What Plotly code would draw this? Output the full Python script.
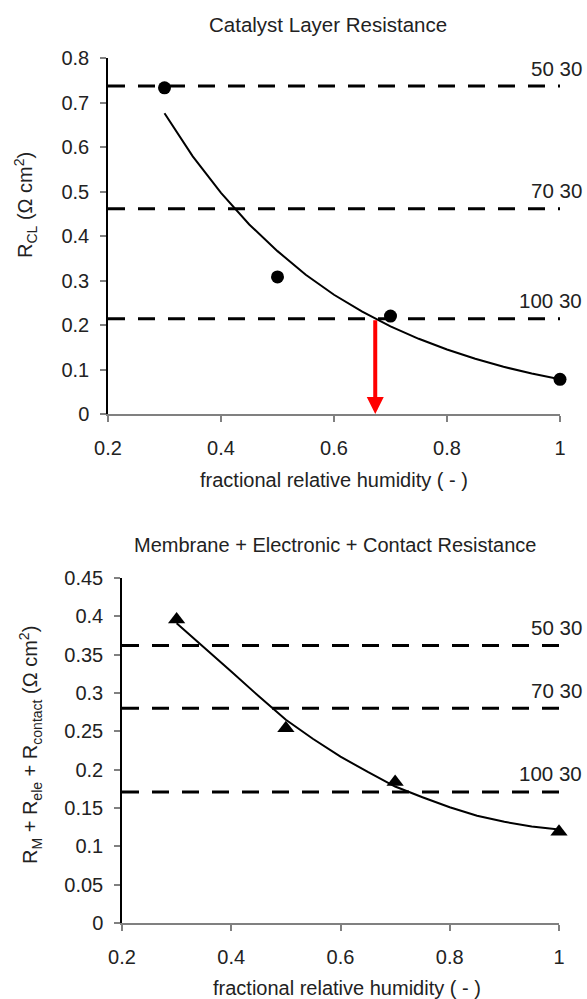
import plotly.graph_objects as go

# Fractional relative humidity of the measured points and of the fitted curves
rh_points = [0.3, 0.5, 0.7, 1.0]
rh_fit = [0.30, 0.35, 0.40, 0.45, 0.50, 0.55, 0.60, 0.65, 0.70,
          0.75, 0.80, 0.85, 0.90, 0.95, 1.00]

# Catalyst layer resistance (Ohm cm^2)
rcl_points = [0.733, 0.308, 0.220, 0.078]
rcl_fit = [0.676, 0.579, 0.497, 0.426, 0.366, 0.313, 0.268, 0.230,
           0.197, 0.169, 0.145, 0.124, 0.106, 0.091, 0.078]
rcl_levels = [0.737, 0.461, 0.214]

# Membrane + electronic + contact resistance (Ohm cm^2)
rm_points = [0.396, 0.254, 0.184, 0.119]
rm_fit = [0.391, 0.360, 0.328, 0.296, 0.265, 0.240, 0.217, 0.197,
          0.178, 0.164, 0.151, 0.140, 0.132, 0.126, 0.122]
rm_levels = [0.362, 0.280, 0.171]

level_labels = ["50 30", "70 30", "100 30"]
rh_at_100_30 = 0.673

x_ticks = [0.2, 0.4, 0.6, 0.8, 1.0]
rcl_ticks = [0, 0.1, 0.2, 0.3, 0.4, 0.5, 0.6, 0.7, 0.8]
rm_ticks = [0, 0.05, 0.1, 0.15, 0.2, 0.25, 0.3, 0.35, 0.4, 0.45]

W, H = 587, 999
FONT = "Liberation Sans, Arial, sans-serif"
TXT = "#222222"


def px_x(p):
    return p / W


def px_y(p):
    return 1 - p / H


fig = go.Figure()

# top panel
fig.add_trace(go.Scatter(x=rh_fit, y=rcl_fit, mode="lines",
                         line=dict(color="black", width=2),
                         xaxis="x", yaxis="y", showlegend=False))
fig.add_trace(go.Scatter(x=rh_points, y=rcl_points, mode="markers",
                         marker=dict(symbol="circle", size=13, color="black"),
                         cliponaxis=False, xaxis="x", yaxis="y", showlegend=False))

# bottom panel
fig.add_trace(go.Scatter(x=rh_fit, y=rm_fit, mode="lines",
                         line=dict(color="black", width=2),
                         xaxis="x2", yaxis="y2", showlegend=False))
fig.add_trace(go.Scatter(x=rh_points, y=rm_points, mode="markers",
                         marker=dict(symbol="triangle-up", size=15, color="black"),
                         cliponaxis=False, xaxis="x2", yaxis="y2", showlegend=False))

shapes = []
annotations = []
for lvl, lab in zip(rcl_levels, level_labels):
    shapes.append(dict(type="line", xref="x", yref="y", x0=0.2, x1=1.0, y0=lvl, y1=lvl,
                       line=dict(color="black", width=3, dash="17px,13px")))
    annotations.append(dict(xref="paper", yref="y", x=px_x(584), y=lvl, text=lab,
                            showarrow=False, xanchor="right", yanchor="middle", yshift=18,
                            font=dict(family=FONT, size=20.5, color=TXT)))
for lvl, lab in zip(rm_levels, level_labels):
    shapes.append(dict(type="line", xref="x2", yref="y2", x0=0.2, x1=1.0, y0=lvl, y1=lvl,
                       line=dict(color="black", width=3, dash="17px,13px")))
    annotations.append(dict(xref="paper", yref="y2", x=px_x(584), y=lvl, text=lab,
                            showarrow=False, xanchor="right", yanchor="middle", yshift=18,
                            font=dict(family=FONT, size=20.5, color=TXT)))

# red arrow from the 100 30 level down to the humidity axis
annotations.append(dict(xref="x", yref="y", axref="x", ayref="y",
                        x=rh_at_100_30, y=0, ax=rh_at_100_30, ay=rcl_levels[2],
                        text="", showarrow=True, arrowhead=2, arrowsize=0.85,
                        arrowwidth=4, arrowcolor="red", standoff=0, startstandoff=0))

# panel titles and axis titles
text_items = [
    ("Catalyst Layer Resistance", 328, 25, 0, 20.5),
    ("fractional relative humidity ( - )", 334, 480, 0, 20),
    ("R<sub>CL</sub> (Ω cm<sup>2</sup>)", 25, 205, -90, 20),
    ("Membrane + Electronic + Contact Resistance", 335, 545, 0, 20),
    ("fractional relative humidity ( - )", 347, 988, 0, 20),
    ("R<sub>M</sub> + R<sub>ele</sub> + R<sub>contact</sub> (Ω cm<sup>2</sup>)", 30, 745, -90, 20),
]
for txt, xp, yp, ang, sz in text_items:
    annotations.append(dict(xref="paper", yref="paper", x=px_x(xp), y=px_y(yp), text=txt,
                            showarrow=False, xanchor="center", yanchor="middle",
                            textangle=ang, font=dict(family=FONT, size=sz, color=TXT)))

xaxis_common = dict(range=[0.2, 1.0], tickvals=x_ticks, ticktext=["0.2", "0.4", "0.6", "0.8", "1"],
                    showgrid=False, zeroline=False, showline=True, linecolor="#808080",
                    linewidth=1.5, ticks="outside", ticklen=6, tickcolor="#808080",
                    tickwidth=1.5, automargin=False, ticklabelstandoff=9,
                    tickfont=dict(family=FONT, size=20, color=TXT))
yaxis_common = dict(showgrid=False, zeroline=False, showline=True, linecolor="black",
                    linewidth=1.5, ticks="outside", ticklen=6, tickcolor="#808080",
                    tickwidth=1.5, automargin=False, ticklabelstandoff=7,
                    tickfont=dict(family=FONT, size=20, color=TXT))

fig.update_layout(
    width=W, height=H,
    margin=dict(l=0, r=0, t=0, b=0, autoexpand=False),
    paper_bgcolor="white", plot_bgcolor="white",
    font=dict(family=FONT, color=TXT),
    xaxis=dict(domain=[px_x(108), px_x(560)], anchor="y", **xaxis_common),
    yaxis=dict(domain=[px_y(414), px_y(58)], anchor="x", range=[0, 0.8],
               tickvals=rcl_ticks, ticktext=["0", "0.1", "0.2", "0.3", "0.4", "0.5", "0.6", "0.7", "0.8"],
               **yaxis_common),
    xaxis2=dict(domain=[px_x(122), px_x(559)], anchor="y2", **xaxis_common),
    yaxis2=dict(domain=[px_y(923), px_y(578)], anchor="x2", range=[0, 0.45],
                tickvals=rm_ticks,
                ticktext=["0", "0.05", "0.1", "0.15", "0.2", "0.25", "0.3", "0.35", "0.4", "0.45"],
                **yaxis_common),
    shapes=shapes,
    annotations=annotations,
    showlegend=False,
)

fig.write_html("out.html")
